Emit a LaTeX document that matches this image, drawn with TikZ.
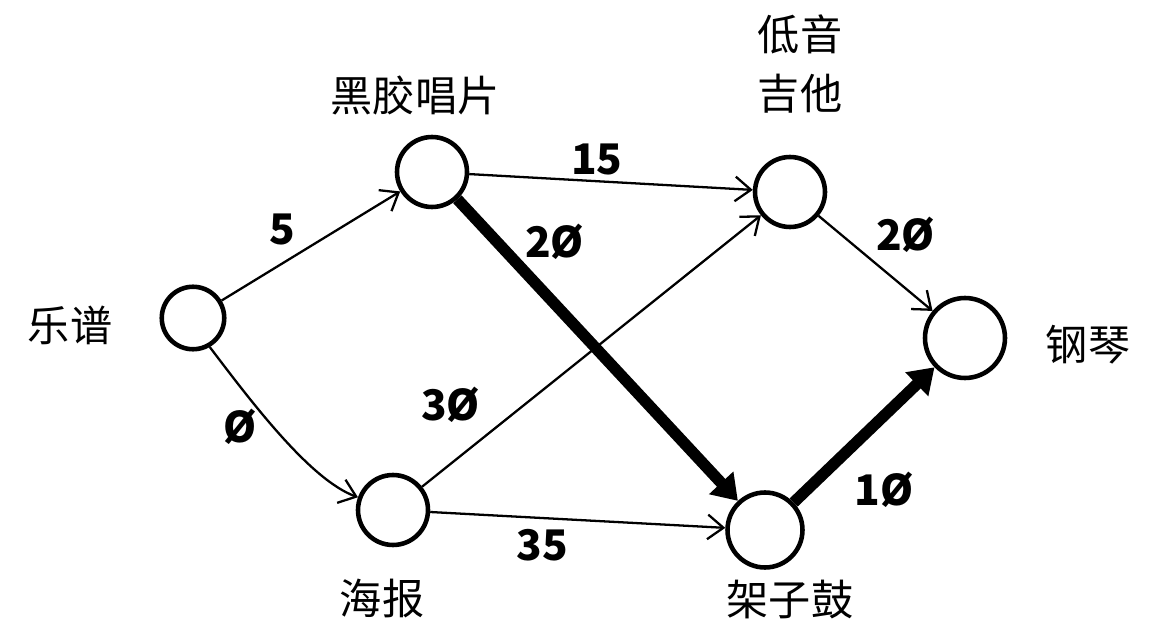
\documentclass[tikz,border=0pt]{standalone}
\usepackage{fontspec}
\setmainfont{Noto Sans CJK SC}
\usetikzlibrary{arrows.meta}

\tikzset{
  item/.style={circle, draw, line width=2.6pt, inner sep=0pt},
  itemname/.style={font=\fontsize{24}{34}\selectfont, align=center},
  cost/.style={font=\fontsize{24}{28}\selectfont\bfseries, inner sep=3pt},
  trade/.style={line width=1.3pt, -{Straight Barb[length=9pt,width=14pt]}},
  best/.style={line width=6.5pt, -{Triangle[length=14pt,width=18pt]}},
}

\begin{document}
\begin{tikzpicture}[x=0.02cm,y=-0.02cm]
\useasboundingbox (0,0) rectangle (1150,625);
% items
\node[item, minimum size=1.25cm] (score) at (193,318) {};
\node[item, minimum size=1.4cm] (record) at (432,172) {};
\node[item, minimum size=1.4cm] (bass) at (790,192) {};
\node[item, minimum size=1.6cm] (piano) at (965,338) {};
\node[item, minimum size=1.4cm] (poster) at (393,510) {};
\node[item, minimum size=1.5cm] (drums) at (765,530) {};
% names
\node[itemname] (scorename) at (70,325) {乐谱};
\node[itemname] (recordname) at (415,95) {黑胶唱片};
\node[itemname] (bassname) at (800,64) {低音\\吉他};
\node[itemname] (pianoname) at (1088,345) {钢琴};
\node[itemname] (postername) at (382,598) {海报};
\node[itemname] (drumsname) at (790,600) {架子鼓};
% trades
\draw[trade] (score) -- (record) node[cost, pos=.45, above left] {5};
\draw[trade] (score.-60) .. controls (250,400) and (310,480) .. (poster.160)
  node[cost, pos=.45, left=6pt] {Ø};
\draw[trade] (record) -- (bass) node[cost, pos=.45, above] {15};
\draw[best] (record) -- (drums) node[cost, pos=.14, right=10pt] {2Ø};
\draw[trade] (poster) -- (bass) node[cost, pos=.2, above left=2pt] {3Ø};
\draw[trade] (poster) -- (drums) node[cost, pos=.38, below=3pt] {35};
\draw[trade] (bass) -- (piano) node[cost, pos=.45, above right] {2Ø};
\draw[best] (drums) -- (piano) node[cost, pos=.33, below right=2pt] {1Ø};
\end{tikzpicture}
\end{document}
